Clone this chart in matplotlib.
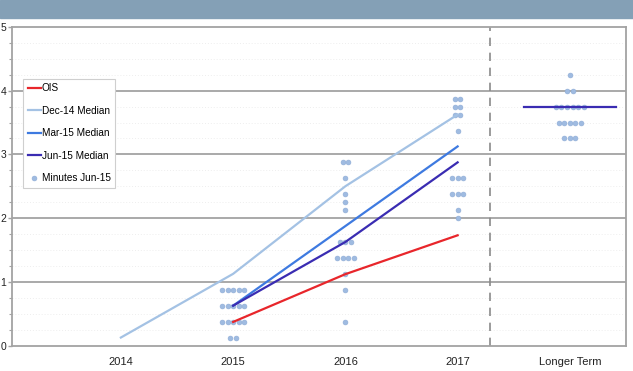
import matplotlib
matplotlib.use("Agg")
import matplotlib.pyplot as plt
from matplotlib.lines import Line2D
from matplotlib.patches import Rectangle
import numpy as np

plt.rcParams["font.family"] = ["Liberation Sans", "DejaVu Sans"]

# Horizon labels
categories = ["2014", "2015", "2016", "2017", "Longer Term"]

# Median projections of the federal funds rate (percent)
dec14_median = [0.125, 1.125, 2.5, 3.625]          # 2014..2017
mar15_median = [0.625, 1.875, 3.125]               # 2015..2017
jun15_median = [0.625, 1.625, 2.875]               # 2015..2017
jun15_longer = 3.75
ois_path = [0.37, 1.12, 1.73]                      # 2015..2017

# June 2015 participant projections: rate level and number of dots
dots_2015_rate = [0.125, 0.375, 0.625, 0.875]
dots_2015_n = [2, 5, 5, 5]
dots_2016_rate = [0.375, 0.875, 1.125, 1.375, 1.625, 2.125, 2.25, 2.375, 2.625, 2.875]
dots_2016_n = [1, 1, 1, 4, 3, 1, 1, 1, 1, 2]
dots_2017_rate = [2.0, 2.125, 2.375, 2.625, 3.375, 3.625, 3.75, 3.875]
dots_2017_n = [1, 1, 3, 3, 1, 2, 2, 2]
dots_lt_rate = [3.25, 3.5, 3.75, 4.0, 4.25]
dots_lt_n = [3, 5, 6, 2, 1]

W, H = 633, 371
fig = plt.figure(figsize=(W / 100, H / 100), dpi=100)

# header band
fig.patches.append(Rectangle((0, 1 - 18 / H), 1, 18 / H, transform=fig.transFigure,
                             color="#84a0b6", zorder=0))

ax = fig.add_axes([12 / W, 1 - 345.5 / H, 614 / W, 318.5 / H])
ax.set_xlim(-0.97, 4.5)
ax.set_ylim(0, 5)

# grid: solid at whole percents, faint dotted at quarter points
for y in np.arange(0.25, 5, 0.25):
    if abs(y - round(y)) < 1e-9:
        ax.axhline(y, color="#a3a3a3", lw=1.3, zorder=1)
    else:
        ax.axhline(y, color="#eeeeee", lw=0.7, ls=(0, (1, 2)), zorder=1)

for s in ax.spines.values():
    s.set_color("#a3a3a3")
    s.set_linewidth(1.3)

# separator before the longer-run column
ax.axvline(3.29, color="#8a8a8a", lw=1.2, ls=(0, (5, 4)), zorder=2)

# dot plot
dot_color = "#9fbbe1"
step = 0.05
for xc, rates, counts in [(1, dots_2015_rate, dots_2015_n),
                          (2, dots_2016_rate, dots_2016_n),
                          (3, dots_2017_rate, dots_2017_n),
                          (4, dots_lt_rate, dots_lt_n)]:
    for r, n in zip(rates, counts):
        xs = xc + (np.arange(n) - (n - 1) / 2) * step
        ax.plot(xs, [r] * n, ls="none", marker="o", ms=3.5, mfc=dot_color,
                mec="#8eabd6", mew=0.4, zorder=3)

lw = 1.6
ax.plot([0, 1, 2, 3], dec14_median, color="#a4c2e4", lw=lw, zorder=4)
ax.plot([1, 2, 3], mar15_median, color="#3e7ae0", lw=lw, zorder=5)
ax.plot([1, 2, 3], jun15_median, color="#3a2cb2", lw=lw, zorder=6)
ax.plot([3.59, 4.41], [jun15_longer, jun15_longer], color="#3a2cb2", lw=lw, zorder=6)
ax.plot([1, 2, 3], ois_path, color="#e8262b", lw=lw, zorder=7)

ax.set_xticks(range(len(categories)))
ax.set_xticklabels(categories)
ax.tick_params(axis="x", length=0, pad=8, labelsize=8, colors="#222222")
ax.set_yticks(range(0, 6))
ax.set_yticks(np.arange(0, 5.01, 0.25), minor=True)
ax.tick_params(axis="y", which="major", length=3, width=1, pad=1,
               labelsize=7.5, labelcolor="#222222", color="#a3a3a3")
ax.tick_params(axis="y", which="minor", length=2, width=0.8, color="#a3a3a3")

handles = [
    Line2D([], [], color="#e8262b", lw=lw),
    Line2D([], [], color="#a4c2e4", lw=lw),
    Line2D([], [], color="#3e7ae0", lw=lw),
    Line2D([], [], color="#3a2cb2", lw=lw),
    Line2D([], [], ls="none", marker="o", ms=3.5, mfc=dot_color, mec="#8eabd6", mew=0.4),
]
labels = ["OIS", "Dec-14 Median", "Mar-15 Median", "Jun-15 Median", "Minutes Jun-15"]
leg = ax.legend(handles, labels, loc="upper left", bbox_to_anchor=(0.018, 0.837),
                borderaxespad=0, fontsize=7.2, handlelength=1.3, handletextpad=0.1,
                labelspacing=1.25, borderpad=0.45, frameon=True, fancybox=False,
                edgecolor="#cfcfcf", framealpha=1)
leg.get_frame().set_linewidth(0.8)
leg.set_zorder(10)

fig.savefig("out.png", dpi=100)
